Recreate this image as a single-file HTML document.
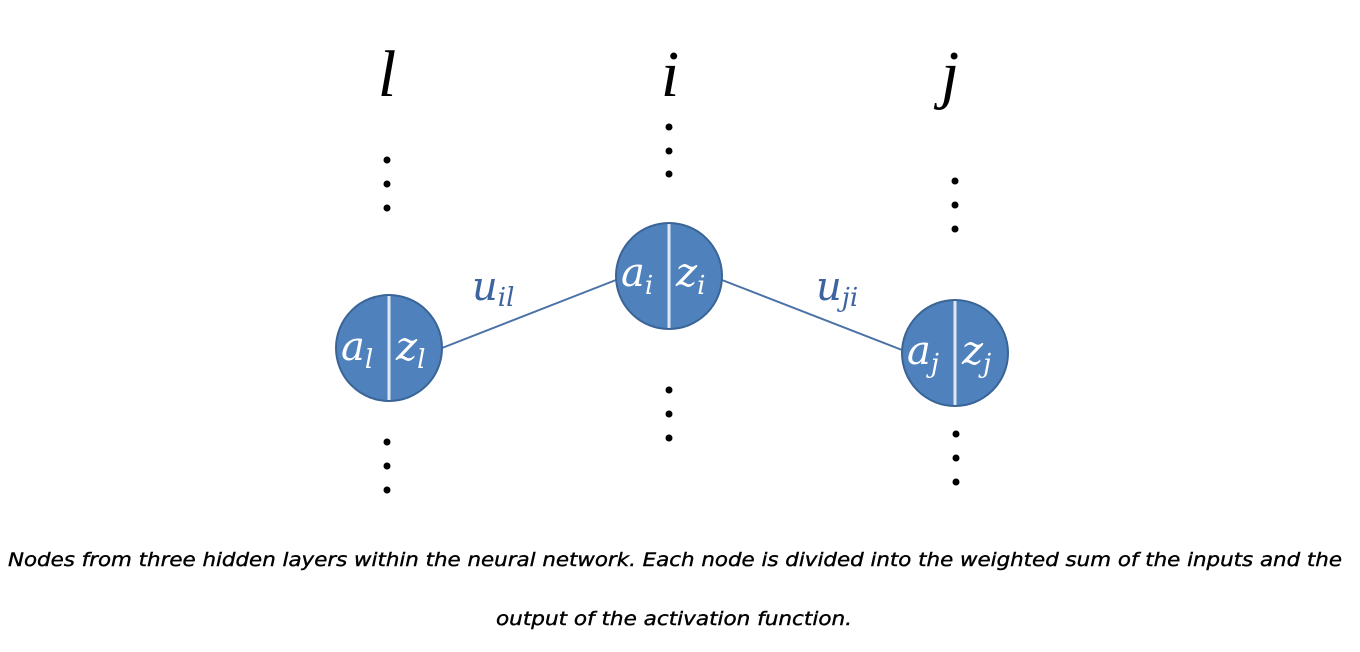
<!DOCTYPE html>
<html><head><meta charset="utf-8"><style>
html,body{margin:0;padding:0;background:#fff;width:1360px;height:652px;overflow:hidden}
</style></head><body>
<svg width="1360" height="652" viewBox="0 0 1360 652" xmlns="http://www.w3.org/2000/svg">
<g font-family="'Liberation Serif', serif" font-style="italic" fill="#000" font-size="66" text-anchor="middle">
<text x="387" y="96">l</text>
<text x="670" y="96">i</text>
<text x="950" y="96">j</text>
</g>
<g fill="#000">
<circle cx="387" cy="160" r="3.5"/><circle cx="387" cy="184" r="3.5"/><circle cx="387" cy="208" r="3.5"/>
<circle cx="387" cy="442" r="3.5"/><circle cx="387" cy="466" r="3.5"/><circle cx="387" cy="490" r="3.5"/>
<circle cx="669" cy="127" r="3.5"/><circle cx="669" cy="151" r="3.5"/><circle cx="669" cy="174" r="3.5"/>
<circle cx="669" cy="390" r="3.5"/><circle cx="669" cy="414" r="3.5"/><circle cx="669" cy="438" r="3.5"/>
<circle cx="955" cy="181" r="3.5"/><circle cx="955" cy="205" r="3.5"/><circle cx="955" cy="229" r="3.5"/>
<circle cx="956" cy="434" r="3.5"/><circle cx="956" cy="458" r="3.5"/><circle cx="956" cy="482" r="3.5"/>
</g>
<line x1="442" y1="348" x2="616" y2="280" stroke="#4a72a8" stroke-width="2"/>
<line x1="722" y1="280" x2="902" y2="350" stroke="#4a72a8" stroke-width="2"/>
<g font-family="'DejaVu Serif', serif" font-style="italic" fill="#3e64a0">
<text x="472" y="300" font-size="40">u<tspan font-size="26" dy="6">il</tspan></text>
<text x="816" y="300" font-size="40">u<tspan font-size="26" dy="6">ji</tspan></text>
</g>
<g>
<circle cx="389" cy="348" r="53" fill="#4f81bd" stroke="#3a6496" stroke-width="2"/>
<line x1="389" y1="296" x2="389" y2="400" stroke="#dde6f2" stroke-width="3"/>
<text x="341" y="360" font-family="'DejaVu Serif', serif" font-style="italic" fill="#fff" font-size="40">a<tspan font-size="26" dy="8">l</tspan></text>
<text x="396" y="360" font-family="'DejaVu Serif', serif" font-style="italic" fill="#fff" font-size="40">z<tspan font-size="26" dy="8">l</tspan></text>
</g>
<g>
<circle cx="669" cy="276" r="53" fill="#4f81bd" stroke="#3a6496" stroke-width="2"/>
<line x1="669" y1="224" x2="669" y2="328" stroke="#dde6f2" stroke-width="3"/>
<text x="621" y="286" font-family="'DejaVu Serif', serif" font-style="italic" fill="#fff" font-size="40">a<tspan font-size="26" dy="8">i</tspan></text>
<text x="676" y="286" font-family="'DejaVu Serif', serif" font-style="italic" fill="#fff" font-size="40">z<tspan font-size="26" dy="8">i</tspan></text>
</g>
<g>
<circle cx="955" cy="353" r="53" fill="#4f81bd" stroke="#3a6496" stroke-width="2"/>
<line x1="955" y1="301" x2="955" y2="405" stroke="#dde6f2" stroke-width="3"/>
<text x="907" y="364" font-family="'DejaVu Serif', serif" font-style="italic" fill="#fff" font-size="40">a<tspan font-size="26" dy="8">j</tspan></text>
<text x="962" y="364" font-family="'DejaVu Serif', serif" font-style="italic" fill="#fff" font-size="40">z<tspan font-size="26" dy="8">j</tspan></text>
</g>
<g font-family="'DejaVu Sans', 'Liberation Sans', sans-serif" font-style="italic" font-size="19" fill="#000" stroke="#000" stroke-width="0.4">
<text x="8" y="566" textLength="1334" lengthAdjust="spacingAndGlyphs">Nodes from three hidden layers within the neural network. Each node is divided into the weighted sum of the inputs and the</text>
<text x="496" y="625" textLength="356" lengthAdjust="spacingAndGlyphs">output of the activation function.</text>
</g>
</svg>
</body></html>
